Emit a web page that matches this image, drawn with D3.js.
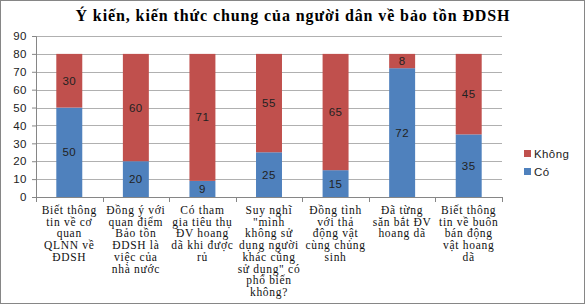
<!DOCTYPE html>
<html>
<head>
<meta charset="utf-8">
<script src="https://cdn.jsdelivr.net/npm/d3@7"></script>
<style>
  body { margin: 0; background: #fff; }
  svg { display: block; }
</style>
</head>
<body>
<div id="chart"></div>
<script>
var svgWidth = 585;
var svgHeight = 304;

var margin = { top: 36, right: 83, bottom: 107, left: 36 };
var width = svgWidth - margin.left - margin.right;
var height = svgHeight - margin.top - margin.bottom;

// data
var categories = [
  ["Biết thông", "tin về cơ", "quan", "QLNN về", "ĐDSH"],
  ["Đồng ý với", "quan điểm", "Bảo tồn", "ĐDSH là", "việc của", "nhà nước"],
  ["Có tham", "gia tiêu thụ", "ĐV hoang", "dã khi được", "rủ"],
  ["Suy nghĩ", "\"mình", "không sử", "dụng người", "khác cũng", "sử dụng\" có", "phổ biến", "không?"],
  ["Đồng tình", "với thả", "động vật", "cùng chủng", "sinh"],
  ["Đã từng", "săn bắt ĐV", "hoang dã"],
  ["Biết thông", "tin về buôn", "bán động", "vật hoang", "dã"]
];
var coValues = [50, 20, 9, 25, 15, 72, 35];
var khongValues = [30, 60, 71, 55, 65, 8, 45];
var yTicks = [0, 10, 20, 30, 40, 50, 60, 70, 80, 90];
var seriesNames = ["Có", "Không"];
var colors = { "Có": "#4F81BD", "Không": "#C0504D" };

var rows = categories.map(function (c, i) {
  return { idx: i, lines: c, "Có": coValues[i], "Không": khongValues[i] };
});

var svg = d3.select("#chart").append("svg")
  .attr("width", svgWidth)
  .attr("height", svgHeight);

// outer border
svg.append("rect")
  .attr("x", 0.5).attr("y", 0.5)
  .attr("width", svgWidth - 1).attr("height", svgHeight - 1)
  .attr("fill", "#fff")
  .attr("stroke", "#868686");

// title
svg.append("text")
  .attr("x", 293)
  .attr("y", 21)
  .attr("text-anchor", "middle")
  .attr("font-family", "'Liberation Serif', 'Times New Roman', serif")
  .attr("font-weight", "bold")
  .attr("font-size", 16)
  .attr("letter-spacing", 0.9)
  .text("Ý kiến, kiến thức chung của người dân về bảo tồn ĐDSH");

var chartGroup = svg.append("g")
  .attr("transform", `translate(${margin.left}, ${margin.top})`);

var x = d3.scaleBand()
  .domain(rows.map(d => d.idx))
  .range([0, width])
  .paddingInner(0.61)
  .paddingOuter(0.305);

var y = d3.scaleLinear().domain([0, 90]).range([height, 0]);

// gridlines
chartGroup.append("g")
  .selectAll("line")
  .data(yTicks.slice(1))
  .enter().append("line")
  .attr("x1", 0).attr("x2", width)
  .attr("y1", d => Math.round(y(d)) + 0.5)
  .attr("y2", d => Math.round(y(d)) + 0.5)
  .attr("stroke", "#b0b0b0");

// stacked bars
var stack = d3.stack().keys(seriesNames);
var layers = stack(rows);

var layerG = chartGroup.selectAll(".layer")
  .data(layers)
  .enter().append("g")
  .attr("fill", d => colors[d.key]);

layerG.selectAll("rect")
  .data(d => d)
  .enter().append("rect")
  .attr("x", d => x(d.data.idx))
  .attr("width", x.bandwidth())
  .attr("y", d => y(d[1]))
  .attr("height", d => y(d[0]) - y(d[1]));

// value labels
layers.forEach(function (layer) {
  chartGroup.append("g")
    .selectAll("text")
    .data(layer)
    .enter().append("text")
    .attr("x", d => x(d.data.idx) + x.bandwidth() / 2)
    .attr("y", d => (y(d[0]) + y(d[1])) / 2 + 4)
    .attr("text-anchor", "middle")
    .attr("font-family", "'Liberation Sans', Arial, sans-serif")
    .attr("font-size", 11.5)
    .attr("letter-spacing", 0.5)
    .attr("fill", "#222")
    .text(d => d[1] - d[0]);
});

// y axis
var leftAxis = d3.axisLeft(y).tickValues(yTicks).tickSize(4).tickPadding(5);
var yAxisG = chartGroup.append("g").call(leftAxis);
yAxisG.select(".domain").attr("stroke", "#868686");
yAxisG.selectAll(".tick line").attr("stroke", "#868686");
yAxisG.selectAll(".tick text")
  .attr("font-family", "'Liberation Sans', Arial, sans-serif")
  .attr("font-size", 11.5)
  .attr("letter-spacing", 0.5)
  .attr("fill", "#222");

// x axis line + tick marks at category boundaries
var xAxisG = chartGroup.append("g").attr("transform", `translate(0, ${height})`);
xAxisG.append("line")
  .attr("x1", 0).attr("x2", width)
  .attr("y1", 0.5).attr("y2", 0.5)
  .attr("stroke", "#868686");
var step = x.step();
xAxisG.selectAll(".bound")
  .data(d3.range(rows.length + 1))
  .enter().append("line")
  .attr("x1", d => Math.round(d * step) + 0.5)
  .attr("x2", d => Math.round(d * step) + 0.5)
  .attr("y1", 0).attr("y2", 5)
  .attr("stroke", "#868686");

// category labels
var labelG = xAxisG.selectAll(".cat")
  .data(rows)
  .enter().append("text")
  .attr("text-anchor", "middle")
  .attr("font-family", "'Liberation Serif', 'Times New Roman', serif")
  .attr("font-size", 11.5)
  .attr("letter-spacing", 0.7)
  .attr("fill", "#111")
  .attr("transform", d => `translate(${x(d.idx) + x.bandwidth() / 2}, 17)`);

labelG.selectAll("tspan")
  .data(d => d.lines)
  .enter().append("tspan")
  .attr("x", 0)
  .attr("y", (d, i) => i * 11.7)
  .text(d => d);

// legend
var legendItems = ["Không", "Có"];
var legend = svg.append("g").attr("transform", "translate(524, 150)");
legendItems.forEach(function (name, i) {
  var g = legend.append("g").attr("transform", `translate(0, ${i * 18})`);
  g.append("rect")
    .attr("width", 7).attr("height", 7)
    .attr("fill", colors[name]);
  g.append("text")
    .attr("x", 10).attr("y", 8)
    .attr("font-family", "'Liberation Sans', Arial, sans-serif")
    .attr("font-size", 11.5)
    .attr("letter-spacing", 0.4)
    .attr("fill", "#222")
    .text(name);
});
</script>
</body>
</html>
